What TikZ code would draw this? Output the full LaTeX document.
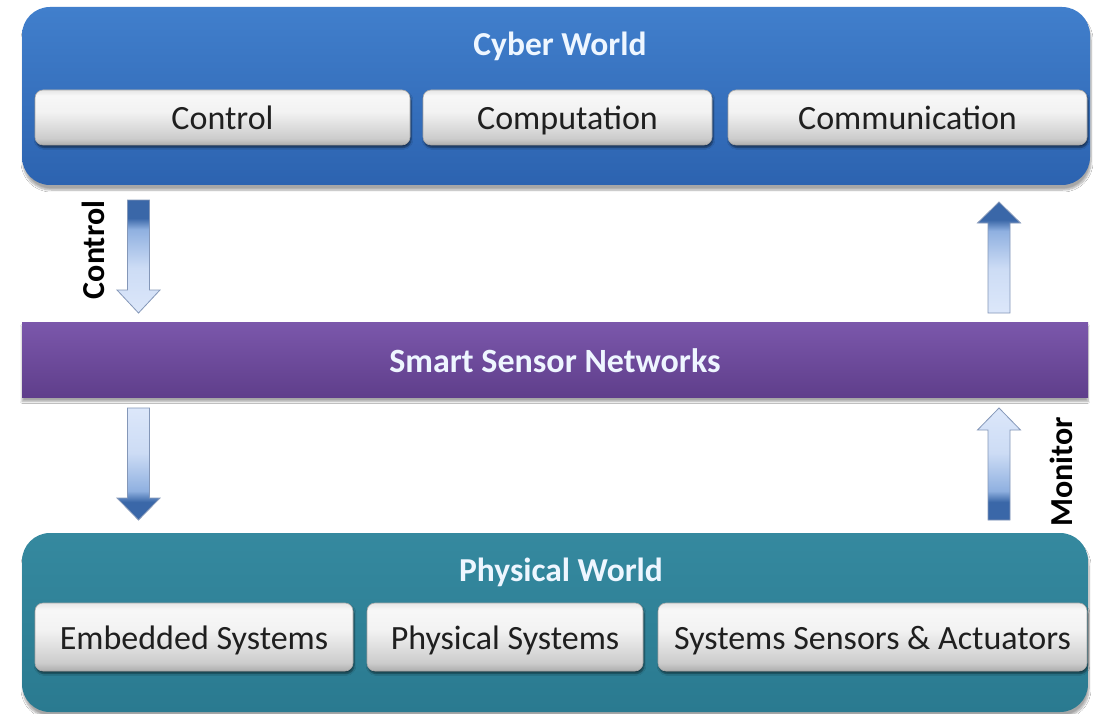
\documentclass[tikz,border=0pt]{standalone}
\usepackage{fontspec}
\setmainfont{Carlito}
\usetikzlibrary{calc,shadows.blur}

\definecolor{cyberTop}{HTML}{417FCC}
\definecolor{cyberBot}{HTML}{2C63B0}
\definecolor{physTop}{HTML}{35899F}
\definecolor{physBot}{HTML}{2A7A90}
\definecolor{netTop}{HTML}{7B57AB}
\definecolor{netBot}{HTML}{5F3E8B}
\definecolor{arrDark}{HTML}{3A67A8}
\definecolor{arrMid}{HTML}{8FB0E0}
\definecolor{arrLight}{HTML}{DCE7FA}
\definecolor{arrEdge}{HTML}{8497B8}
\definecolor{tileEdge}{HTML}{A8A8A8}
\definecolor{titleInk}{HTML}{EEF6FF}

% vertical gradients for the block arrows (25bp = bottom, 75bp = top of the path)
\pgfdeclareverticalshading{darktop}{100bp}{color(0bp)=(arrLight); color(25bp)=(arrLight);
  color(45bp)=(arrLight!80!arrMid); color(62bp)=(arrMid); color(67bp)=(arrDark); color(100bp)=(arrDark)}
\pgfdeclareverticalshading{darkbottom}{100bp}{color(0bp)=(arrDark); color(33bp)=(arrDark);
  color(38bp)=(arrMid); color(55bp)=(arrLight!80!arrMid); color(75bp)=(arrLight); color(100bp)=(arrLight)}
% light tiles: soft grey top, bright middle, darker base
\pgfdeclareverticalshading{tile}{100bp}{color(0bp)=(black!32); color(25bp)=(black!32);
  color(31bp)=(black!20); color(55bp)=(black!5); color(70bp)=(black!3); color(75bp)=(black!10); color(100bp)=(black!10)}

\tikzset{
  world/.style={rounded corners=28pt, draw=none,
    blur shadow={shadow xshift=1pt, shadow yshift=-5pt, shadow blur steps=8, shadow opacity=35}},
  cyberbox/.style={world, top color=cyberTop, bottom color=cyberBot},
  physbox/.style={world, top color=physTop, bottom color=physBot},
  netband/.style={draw=none, top color=netTop, bottom color=netBot,
    blur shadow={shadow xshift=0pt, shadow yshift=-4pt, shadow blur steps=6, shadow opacity=35},
    font=\fontsize{34}{38}\selectfont\bfseries, text=titleInk, text height=24pt, text depth=0pt},
  tilebox/.style={rounded corners=8pt, shading=tile, draw=tileEdge, line width=0.6pt,
    blur shadow={shadow xshift=1pt, shadow yshift=-2.5pt, shadow blur steps=5, shadow opacity=55},
    font=\fontsize{34}{38}\selectfont, text=black!88, text height=24pt, text depth=0pt},
  title/.style={font=\fontsize{33.5}{38}\selectfont\bfseries, text=titleInk, text height=24pt, text depth=0pt},
  sidelabel/.style={font=\fontsize{32}{36}\selectfont\bfseries, text=black, rotate=90},
  blockdown/.style={draw=arrEdge, line width=0.8pt, shading=darktop},
  blockup/.style={draw=arrEdge, line width=0.8pt, shading=darkbottom},
}

\begin{document}
\begin{tikzpicture}[x=1pt,y=-1pt]
  \useasboundingbox (0,0) rectangle (1094,714);
  \fill[white] (0,0) rectangle (1094,714);

  % cyber layer
  \node[cyberbox, minimum width=1068pt, minimum height=178pt] (cyber) at (556,96) {};
  \node[title] (cyberT) at (560,44) {Cyber World};
  \node[tilebox, minimum width=375pt, minimum height=55pt] (control) at (222.5,117.5) {Control};
  \node[tilebox, minimum width=289pt, minimum height=55pt] (computation) at (567.5,117.5) {Computation};
  \node[tilebox, minimum width=359pt, minimum height=55pt] (communication) at (907.5,117.5) {Communication};

  % network layer
  \node[netband, minimum width=1066pt, minimum height=75pt] (net) at (555,360) {Smart Sensor Networks};

  % physical layer
  \node[physbox, minimum width=1066pt, minimum height=179pt] (phys) at (555,622.5) {};
  \node[title] (physT) at (561,569) {Physical World};
  \node[tilebox, minimum width=318pt, minimum height=68pt] (embedded) at (194,637) {Embedded Systems};
  \node[tilebox, minimum width=276pt, minimum height=68pt] (physsys) at (505,637) {Physical Systems};
  \node[tilebox, minimum width=429pt, minimum height=68pt] (sensact) at (872.5,637) {Systems Sensors \& Actuators};

  % arrow end points between the layers
  \coordinate (ulS) at (138.5,200); \coordinate (ulT) at (138.5,313);
  \coordinate (urS) at (999,313);   \coordinate (urT) at (999,202);
  \coordinate (llS) at (138.5,408); \coordinate (llT) at (138.5,520);
  \coordinate (lrS) at (999,520);   \coordinate (lrT) at (999,408);

  % downward block arrows (control path)
  \path[blockdown] ($(ulS)+(-11,0)$) -- ($(ulT)+(-11,-23)$) -- ($(ulT)+(-21.5,-23)$) -- (ulT)
     -- ($(ulT)+(21.5,-23)$) -- ($(ulT)+(11,-23)$) -- ($(ulS)+(11,0)$) -- cycle;
  \path[blockup] ($(llS)+(-11,0)$) -- ($(llT)+(-11,-22)$) -- ($(llT)+(-21.5,-22)$) -- (llT)
     -- ($(llT)+(21.5,-22)$) -- ($(llT)+(11,-22)$) -- ($(llS)+(11,0)$) -- cycle;

  % upward block arrows (monitor path)
  \path[blockdown] ($(urS)+(-11,0)$) -- ($(urT)+(-11,21)$) -- ($(urT)+(-21.5,21)$) -- (urT)
     -- ($(urT)+(21.5,21)$) -- ($(urT)+(11,21)$) -- ($(urS)+(11,0)$) -- cycle;
  \path[blockup] ($(lrS)+(-11,0)$) -- ($(lrT)+(-11,22)$) -- ($(lrT)+(-21.5,22)$) -- (lrT)
     -- ($(lrT)+(21.5,22)$) -- ($(lrT)+(11,22)$) -- ($(lrS)+(11,0)$) -- cycle;

  \node[sidelabel] (ctrlLabel) at (93,250) {Control};
  \node[sidelabel] (monLabel) at (1061,472) {Monitor};
\end{tikzpicture}
\end{document}
